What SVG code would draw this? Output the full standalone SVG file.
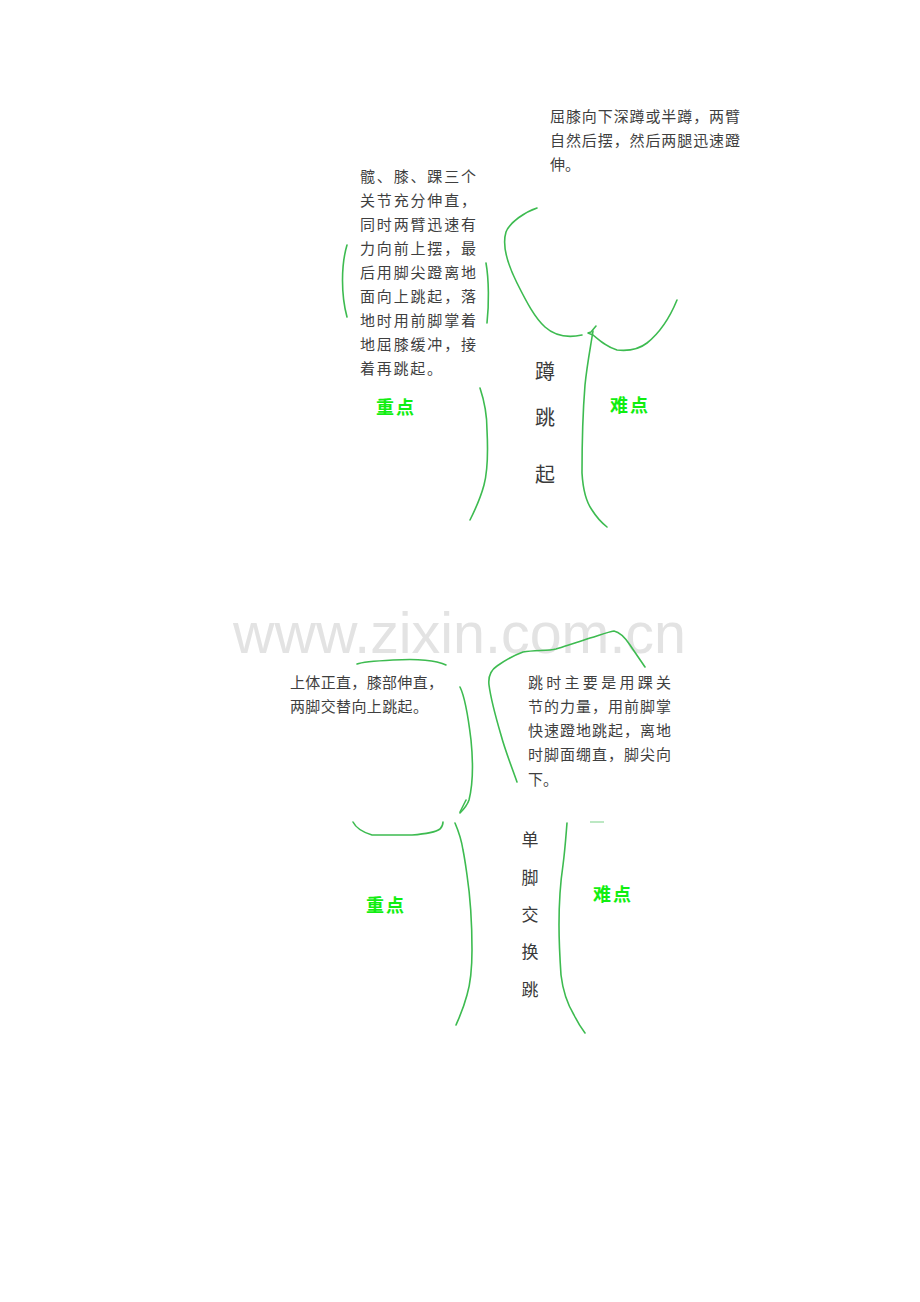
<svg xmlns="http://www.w3.org/2000/svg" width="920" height="1302" viewBox="0 0 920 1302">
<style>
.bg{fill:#ffffff}
.ln{fill:none;stroke:#3dbb50;stroke-width:1.6;stroke-linecap:round;stroke-linejoin:round}
.pale{fill:none;stroke:#8fd99a;stroke-width:1.2}
.t{font-family:"Liberation Serif","Noto Sans CJK SC",serif;font-size:15px;fill:#3f3f3f}
.v{font-family:"Liberation Serif","Noto Sans CJK SC",serif;font-size:20px;fill:#3a3a3a;text-anchor:middle}
.v2{font-family:"Liberation Serif","Noto Sans CJK SC",serif;font-size:17px;fill:#3a3a3a;text-anchor:middle}
.g{font-family:"Noto Sans CJK SC",sans-serif;font-size:18px;font-weight:bold;fill:#11ee11;text-anchor:middle;letter-spacing:2px}
.wm{font-family:"Liberation Sans",Arial,sans-serif;font-size:57px;fill:#e3e3e3}
</style>
<rect class="bg" x="0" y="0" width="920" height="1302"/>

<text class="wm" x="233" y="653" textLength="453" lengthAdjust="spacingAndGlyphs">www.zixin.com.cn</text>

<g id="connectors">
  <path class="ln" d="M347,245 C341,265 341,295 347,317"/>
  <path class="ln" d="M486,263 C489,280 489,305 487,323"/>
  <path class="ln" d="M537,208 C525,212 510,222 506,232 C502,245 508,265 517,283 C527,303 535,318 545,327 C555,336 568,338 582,335"/>
  <path class="ln" d="M596,326 L591,332 L588,333 L593,335 C600,341 607,347 617,350 C626,351 638,350 647,343 C657,335 668,322 677,300"/>
  <path class="ln" d="M593,331 C590,350 587,365 585,385 C583,410 582,440 582,473 C583,490 587,503 592,510 C597,518 602,523 607,527"/>
  <path class="ln" d="M480,388 C484,400 487,415 487,430 C488,450 488,470 484,485 C480,500 474,512 470,520"/>
  <path class="ln" d="M357,664 C362,662 375,661 393,660 C410,659 425,659 437,662 C441,663 444,664 446,665"/>
  <path class="ln" d="M460,687 C465,697 468,715 471,740 C473,760 474,780 469,800 C467,806 463,810 460,813"/>
  <path class="ln" d="M353,822 C356,828 362,832 372,835 C385,835 400,835 412,835 C425,834 436,832 440,829 C442,827 443,824 443,822"/>
  <path class="ln" d="M517,782 C511,765 505,750 501,735 C496,718 491,700 489,685 C488,676 491,670 497,666 C504,661 512,656 523,652 C535,650 548,651 556,649 C565,646 575,643 590,638 C600,635 608,632 614,631 C619,632 624,636 630,645 C636,654 641,661 645,667"/>
  <path class="ln" d="M460,812 L466,800"/>
  <path class="pale" d="M590,822 L604,822"/>
  <path class="ln" d="M455,823 C458,830 461,837 463,850 C465,860 466,868 467,875 C470,895 472,920 472,950 C472,970 470,985 467,995 C463,1010 459,1018 456,1025"/>
  <path class="ln" d="M567,823 C566,835 565,850 563,865 C560,885 559,905 559,925 C559,945 560,960 561,975 C563,992 568,1005 574,1015 C578,1023 582,1029 585,1033"/>
</g>

<g id="node-top-right-text">
  <text class="t" x="550" y="122" textLength="190" lengthAdjust="spacing">屈膝向下深蹲或半蹲，两臂</text>
  <text class="t" x="550" y="146" textLength="190" lengthAdjust="spacing">自然后摆，然后两腿迅速蹬</text>
  <text class="t" x="550" y="170">伸。</text>
</g>

<g id="node-top-left-text">
  <text class="t" x="360" y="182" textLength="116" lengthAdjust="spacing">髋、膝、踝三个</text>
  <text class="t" x="360" y="206" textLength="116" lengthAdjust="spacing">关节充分伸直，</text>
  <text class="t" x="360" y="230" textLength="116" lengthAdjust="spacing">同时两臂迅速有</text>
  <text class="t" x="360" y="254" textLength="116" lengthAdjust="spacing">力向前上摆，最</text>
  <text class="t" x="360" y="278" textLength="116" lengthAdjust="spacing">后用脚尖蹬离地</text>
  <text class="t" x="360" y="302" textLength="116" lengthAdjust="spacing">面向上跳起，落</text>
  <text class="t" x="360" y="326" textLength="116" lengthAdjust="spacing">地时用前脚掌着</text>
  <text class="t" x="360" y="350" textLength="116" lengthAdjust="spacing">地屈膝缓冲，接</text>
  <text class="t" x="360" y="374" textLength="82" lengthAdjust="spacing">着再跳起。</text>
</g>

<g id="node-top-title">
  <text class="v" x="545" y="379">蹲</text>
  <text class="v" x="545" y="425">跳</text>
  <text class="v" x="545" y="482">起</text>
</g>

<g id="node-top-zhongdian"><text class="g" x="396" y="414">重点</text></g>
<g id="node-top-nandian"><text class="g" x="630" y="412">难点</text></g>

<g id="node-bottom-left-text">
  <text class="t" x="290" y="688" textLength="153" lengthAdjust="spacing">上体正直，膝部伸直，</text>
  <text class="t" x="290" y="712" textLength="138" lengthAdjust="spacing">两脚交替向上跳起。</text>
</g>

<g id="node-bottom-right-text">
  <text class="t" x="528" y="688" textLength="143" lengthAdjust="spacing">跳时主要是用踝关</text>
  <text class="t" x="528" y="712" textLength="143" lengthAdjust="spacing">节的力量，用前脚掌</text>
  <text class="t" x="528" y="736" textLength="143" lengthAdjust="spacing">快速蹬地跳起，离地</text>
  <text class="t" x="528" y="760" textLength="143" lengthAdjust="spacing">时脚面绷直，脚尖向</text>
  <text class="t" x="528" y="785">下。</text>
</g>

<g id="node-bottom-title">
  <text class="v2" x="530" y="846">单</text>
  <text class="v2" x="530" y="884">脚</text>
  <text class="v2" x="530" y="921">交</text>
  <text class="v2" x="530" y="958">换</text>
  <text class="v2" x="530" y="996">跳</text>
</g>

<g id="node-bottom-zhongdian"><text class="g" x="386" y="912">重点</text></g>
<g id="node-bottom-nandian"><text class="g" x="613" y="901">难点</text></g>
</svg>
